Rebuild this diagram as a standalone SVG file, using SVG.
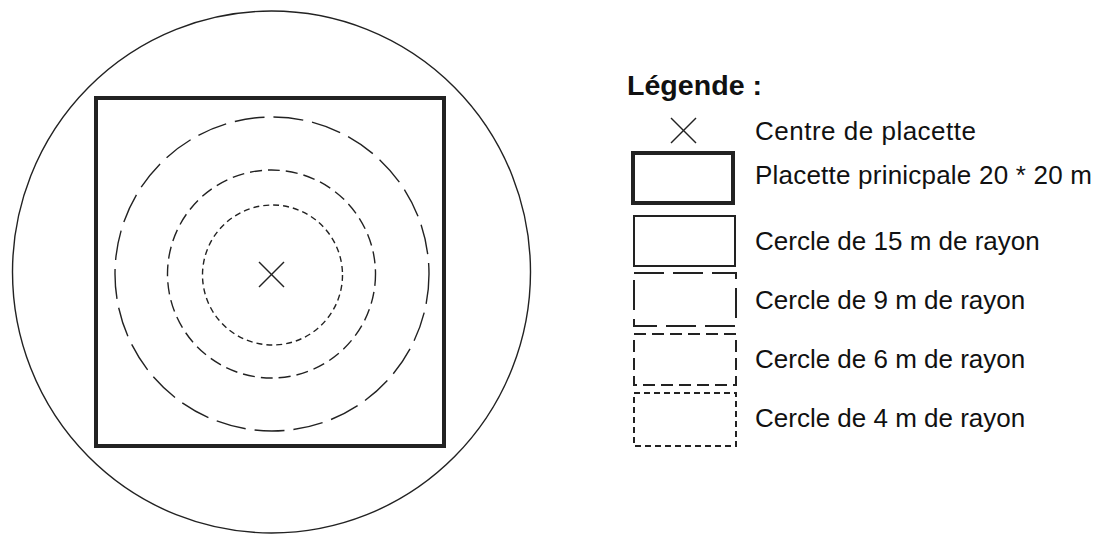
<svg xmlns="http://www.w3.org/2000/svg" width="1112" height="534" viewBox="0 0 1112 534">
<style>
  .ln { fill: none; stroke: #222; }
  .thin { stroke-width: 1.4; }
  .thick { stroke-width: 4; }
  .leg { stroke-width: 2; }
  .d9 { stroke-dasharray: 30 9; }
  .d6 { stroke-dasharray: 12 6; }
  .d4 { stroke-dasharray: 6 4; }
  .txt { font-family: "Liberation Sans", Arial, sans-serif; font-size: 26px; fill: #111; }
  .title { font-family: "Liberation Sans", Arial, sans-serif; font-size: 27px; font-weight: bold; fill: #111; }
</style>
<rect width="1112" height="534" fill="#fff"/>
<g id="plan">
  <ellipse id="cercle15" class="ln thin" cx="271.5" cy="272" rx="259" ry="261"/>
  <rect id="placette" class="ln thick" x="96" y="98" width="348" height="348"/>
  <circle id="cercle9" class="ln thin d9" cx="272" cy="274" r="157"/>
  <circle id="cercle6" class="ln thin d6" cx="271.5" cy="274" r="104"/>
  <circle id="cercle4" class="ln thin d4" cx="272.5" cy="275" r="70"/>
  <g id="centre" class="ln thin">
    <line x1="259" y1="262" x2="284" y2="287"/>
    <line x1="259" y1="287" x2="284" y2="262"/>
  </g>
</g>
<g id="legende">
  <text class="title" x="627" y="95" textLength="135" lengthAdjust="spacingAndGlyphs">Légende :</text>
  <g id="leg-centre">
    <g class="ln thin">
      <line x1="671" y1="118" x2="696" y2="143"/>
      <line x1="671" y1="143" x2="696" y2="118"/>
    </g>
    <text class="txt" x="755" y="140" textLength="221">Centre de placette</text>
  </g>
  <g id="leg-placette">
    <rect class="ln thick" x="633" y="153" width="100" height="50"/>
    <text class="txt" x="755" y="184" textLength="337">Placette prinicpale 20 * 20 m</text>
  </g>
  <g id="leg-15">
    <rect class="ln leg" x="634" y="216" width="101" height="50"/>
    <text class="txt" x="755" y="250">Cercle de 15 m de rayon</text>
  </g>
  <g id="leg-9">
    <rect class="ln leg d9" x="634" y="273" width="102" height="53"/>
    <text class="txt" x="755" y="309">Cercle de 9 m de rayon</text>
  </g>
  <g id="leg-6">
    <rect class="ln leg d6" x="634" y="334" width="102" height="51"/>
    <text class="txt" x="755" y="368">Cercle de 6 m de rayon</text>
  </g>
  <g id="leg-4">
    <rect class="ln leg d4" x="634" y="393" width="102" height="53"/>
    <text class="txt" x="755" y="427">Cercle de 4 m de rayon</text>
  </g>
</g>
</svg>
